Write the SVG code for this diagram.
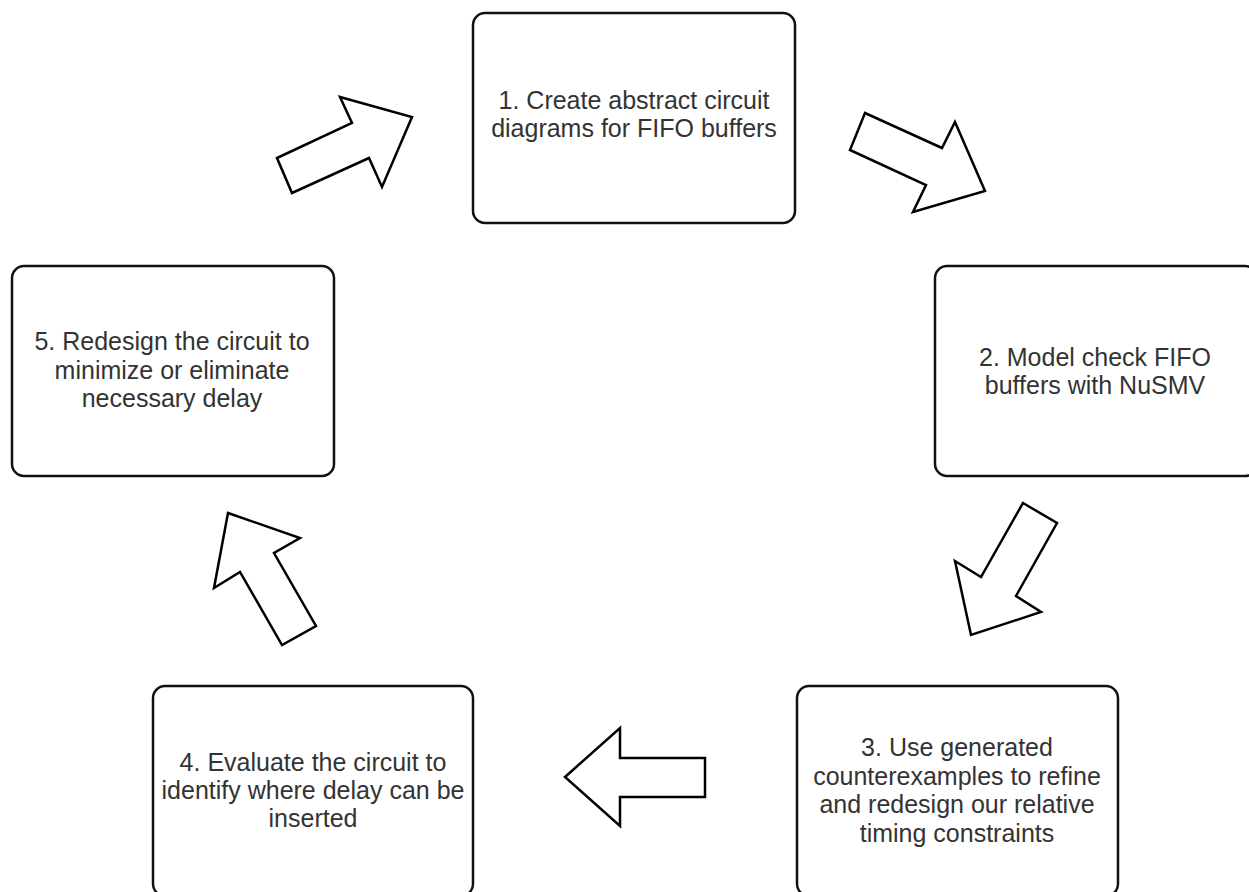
<svg xmlns="http://www.w3.org/2000/svg" width="1249" height="892" viewBox="0 0 1249 892">
  <style>
    .box { fill: #ffffff; stroke: #111111; stroke-width: 2.5; }
    .arrow { fill: #ffffff; stroke: #000000; stroke-width: 2.5; stroke-linejoin: miter; }
    .label { font-family: "Liberation Sans", Arial, sans-serif; font-size: 25px; fill: #333333; text-anchor: middle; }
  </style>
  <rect x="0" y="0" width="1249" height="892" fill="#ffffff"/>

  <!-- process steps -->
  <g id="step1">
    <rect class="box" x="473" y="13" width="322" height="210" rx="12" ry="12"/>
    <text class="label" x="634" y="109">1. Create abstract circuit</text>
    <text class="label" x="634" y="137">diagrams for FIFO buffers</text>
  </g>

  <g id="step2">
    <rect class="box" x="935" y="266" width="322" height="210" rx="12" ry="12"/>
    <text class="label" x="1095" y="366">2. Model check FIFO</text>
    <text class="label" x="1095" y="394">buffers with NuSMV</text>
  </g>

  <g id="step3">
    <rect class="box" x="797" y="686" width="321" height="210" rx="12" ry="12"/>
    <text class="label" x="957" y="756">3. Use generated</text>
    <text class="label" x="957" y="785">counterexamples to refine</text>
    <text class="label" x="957" y="813">and redesign our relative</text>
    <text class="label" x="957" y="842">timing constraints</text>
  </g>

  <g id="step4">
    <rect class="box" x="153" y="686" width="320" height="210" rx="12" ry="12"/>
    <text class="label" x="313" y="771">4. Evaluate the circuit to</text>
    <text class="label" x="313" y="799">identify where delay can be</text>
    <text class="label" x="313" y="827">inserted</text>
  </g>

  <g id="step5">
    <rect class="box" x="12" y="266" width="322" height="210" rx="12" ry="12"/>
    <text class="label" x="172" y="350">5. Redesign the circuit to</text>
    <text class="label" x="172" y="379">minimize or eliminate</text>
    <text class="label" x="172" y="407">necessary delay</text>
  </g>

  <!-- block arrows between steps -->
  <g id="connectors">
    <polygon class="arrow" points="277,158 352,123 340,97 412,117 382,187 369,158 292,193"/>
    <polygon class="arrow" points="865,113 942,148 955,122 985,191 913,212 926,185 850,150"/>
    <polygon class="arrow" points="1023,503 1057,523 1016,596 1041,612 971,635 955,561 981,577"/>
    <polygon class="arrow" points="565,777 620,728 620,758 705,758 705,797 620,797 620,826"/>
    <polygon class="arrow" points="228,513 300,538 274,553 316,626 282,645 240,572 214,588"/>
  </g>
</svg>
